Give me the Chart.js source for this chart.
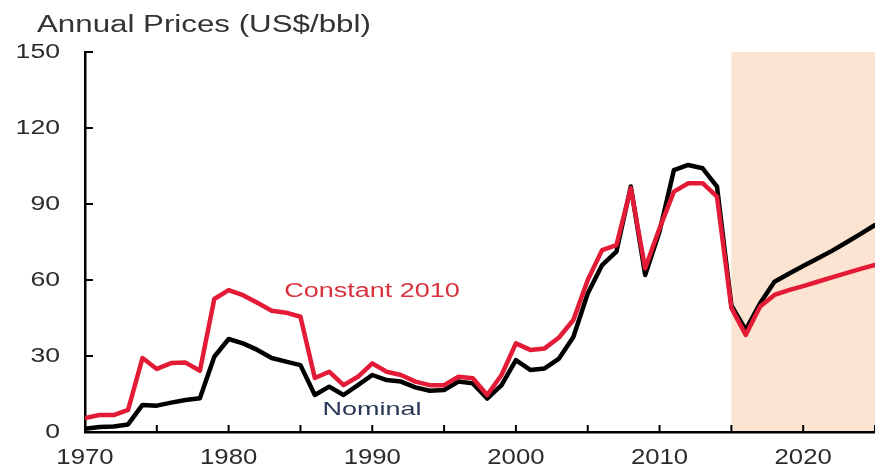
<!DOCTYPE html>
<html>
<head>
<meta charset="utf-8">
<script src="https://cdn.jsdelivr.net/npm/chart.js@4/dist/chart.umd.min.js"></script>
<style>
  body { margin: 0; background: #fff; }
  #wrap { width: 875px; height: 468px; }
</style>
</head>
<body>
<div id="wrap"><canvas id="myChart" width="875" height="468"></canvas></div>
<script>
let years = [];
for (let y = 1970; y <= 2025; y++) years.push(y);

let nominal = [1.3, 2.0, 2.2, 3.0, 10.7, 10.4, 11.6, 12.6, 13.3, 29.7,
    36.7, 35.0, 32.4, 29.2, 27.8, 26.4, 14.6, 17.9, 14.6, 18.5,
    22.5, 20.5, 19.9, 17.6, 16.3, 16.6, 19.9, 19.2, 13.2, 18.5,
    28.4, 24.5, 25.1, 29.0, 37.5, 54.7, 65.9, 71.2, 96.9, 62.0,
    79.1, 103.4, 105.4, 104.1, 96.9, 50.0, 40.3, 50.8, 59.3, 62.5,
    65.5, 68.5, 71.5, 74.8, 78.2, 81.7];

let constant2010 = [5.5, 6.7, 6.7, 8.7, 29.2, 24.9, 27.2, 27.4, 24.2, 52.5,
    56.0, 54.0, 51.0, 47.9, 47.1, 45.5, 21.3, 23.8, 18.5, 21.8,
    27.1, 23.8, 22.5, 19.9, 18.5, 18.5, 21.8, 21.2, 14.6, 22.5,
    35.0, 32.4, 33.0, 37.3, 44.2, 60.0, 71.8, 73.8, 96.2, 64.6,
    80.4, 94.9, 98.2, 98.2, 92.9, 49.0, 38.3, 49.5, 54.1, 56.0,
    57.6, 59.3, 61.0, 62.7, 64.4, 66.0];

let forecastStart = 2015;
let xLabelYears = [1970, 1980, 1990, 2000, 2010, 2020];

const FONT = '"Liberation Sans", Arial, sans-serif';

function wideText(ctx, text, x, y, size, color, sx, align, baseline) {
    ctx.save();
    ctx.translate(x, y);
    ctx.scale(sx, 1);
    ctx.font = size + 'px ' + FONT;
    ctx.fillStyle = color;
    ctx.textAlign = align;
    ctx.textBaseline = baseline;
    ctx.fillText(text, 0, 0);
    ctx.restore();
}

const decorations = {
    id: 'decorations',
    beforeDraw(chart) {
        const ctx = chart.ctx;
        const area = chart.chartArea;
        const x0 = chart.scales.x.getPixelForValue(forecastStart);
        ctx.save();
        ctx.fillStyle = '#FBE4D1';
        ctx.fillRect(x0, area.top, area.right - x0, area.bottom - area.top);
        ctx.restore();
    },
    afterDraw(chart) {
        const ctx = chart.ctx;
        const area = chart.chartArea;
        const xs = chart.scales.x, ys = chart.scales.y;

        // inward tick marks
        ctx.save();
        ctx.strokeStyle = '#000';
        ctx.lineWidth = 2;
        ys.ticks.forEach(t => {
            if (t.value === 0) return;
            const py = ys.getPixelForValue(t.value);
            ctx.beginPath();
            ctx.moveTo(area.left, py);
            ctx.lineTo(area.left + 8, py);
            ctx.stroke();
        });
        xs.ticks.forEach(t => {
            if (t.value === 1970) return;
            const px = xs.getPixelForValue(t.value);
            ctx.beginPath();
            ctx.moveTo(px, area.bottom);
            ctx.lineTo(px, area.bottom - 7);
            ctx.stroke();
        });
        ctx.restore();

        // tick labels
        ys.ticks.forEach(t => {
            wideText(ctx, String(t.value), 60, ys.getPixelForValue(t.value), 20, '#2b2b2b', 1.33, 'right', 'middle');
        });
        xs.ticks.forEach(t => {
            if (xLabelYears.indexOf(t.value) < 0) return;
            wideText(ctx, String(t.value), xs.getPixelForValue(t.value), 458, 22, '#2b2b2b', 1.17, 'center', 'middle');
        });

        // title and series labels
        wideText(ctx, 'Annual Prices (US$/bbl)', 37, 32, 23, '#333', 1.36, 'left', 'alphabetic');
        wideText(ctx, 'Constant 2010', 372, 297, 20, '#D8323F', 1.35, 'center', 'alphabetic');
        wideText(ctx, 'Nominal', 372, 415, 19, '#2A3656', 1.42, 'center', 'alphabetic');
    }
};

let ctx1 = document.getElementById('myChart').getContext('2d');
let chart1 = new Chart(ctx1, {
    type: 'line',
    data: {
        datasets: [
            {
                label: 'Constant 2010',
                data: years.map((yr, i) => ({ x: yr, y: constant2010[i] })),
                borderColor: '#E31B37',
                borderWidth: 4.5,
                pointRadius: 0,
                tension: 0,
                borderJoinStyle: 'round',
                borderCapStyle: 'round'
            },
            {
                label: 'Nominal',
                data: years.map((yr, i) => ({ x: yr, y: nominal[i] })),
                borderColor: '#000000',
                borderWidth: 4.5,
                pointRadius: 0,
                tension: 0,
                borderJoinStyle: 'round',
                borderCapStyle: 'round'
            }
        ]
    },
    options: {
        responsive: false,
        animation: false,
        layout: { padding: { top: 52, right: -3, left: 0, bottom: 0 } },
        plugins: {
            legend: { display: false },
            title: { display: false },
            tooltip: { enabled: false }
        },
        scales: {
            x: {
                type: 'linear',
                min: 1970,
                max: 2025,
                ticks: { stepSize: 5, display: false },
                grid: { display: false, drawTicks: false },
                border: { display: true, color: '#000', width: 2.5 },
                afterFit: (s) => { s.height = 36; }
            },
            y: {
                min: 0,
                max: 150,
                ticks: { stepSize: 30, display: false },
                grid: { display: false, drawTicks: false },
                border: { display: true, color: '#000', width: 2.5 },
                afterFit: (s) => { s.width = 85; }
            }
        }
    },
    plugins: [decorations]
});
</script>
</body>
</html>
